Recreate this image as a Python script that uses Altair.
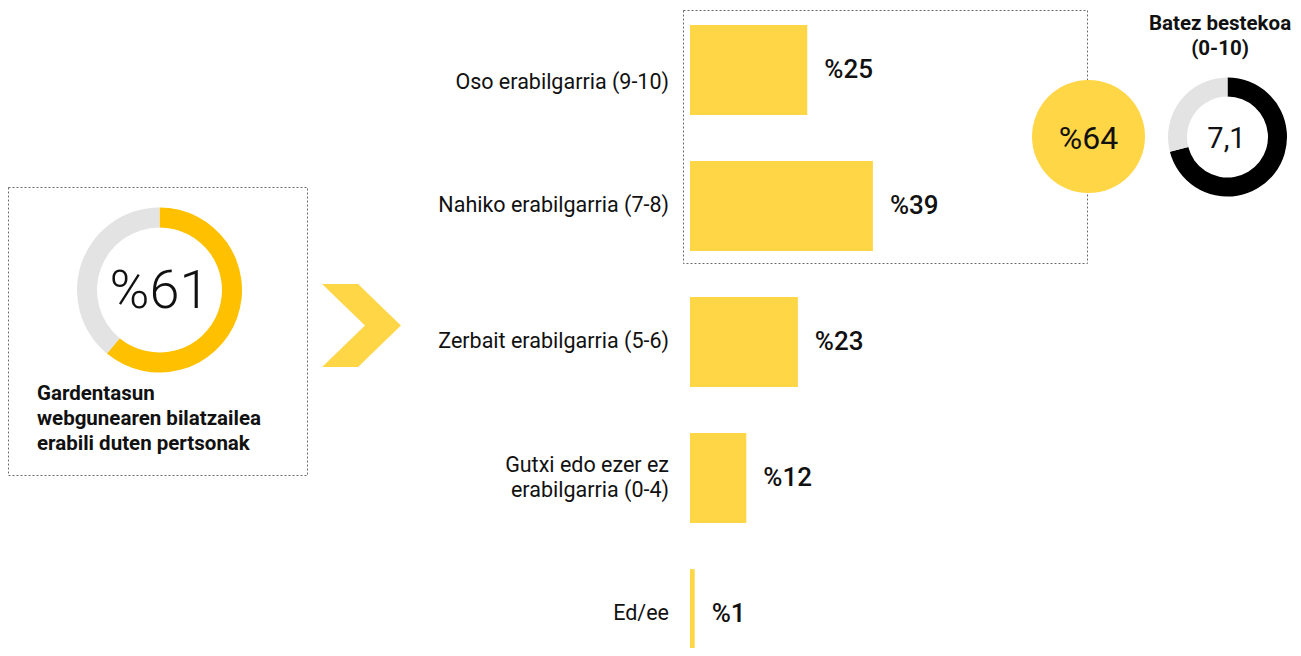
import altair as alt
import pandas as pd

# ---------------- data ----------------
categories = [
    "Oso erabilgarria (9-10)",
    "Nahiko erabilgarria (7-8)",
    "Zerbait erabilgarria (5-6)",
    "Gutxi edo ezer ez\nerabilgarria (0-4)",
    "Ed/ee",
]
values = [25, 39, 23, 12, 1]
users_pct = 61
avg_score = 7.1
avg_max = 10
side_title = "Batez bestekoa\n(0-10)"
left_caption = "Gardentasun\nwebgunearen bilatzailea\nerabili duten pertsonak"

# ---------------- style ----------------
W, H = 1285, 640
YELLOW = "#FFD645"
ORANGE = "#FFC000"
GREY = "#E3E3E3"
INK = "#111111"
DASH = "#6b6b6b"
FONT = "Roboto"

bar_df = pd.DataFrame({
    "category": categories,
    "value": values,
    "label": ["%" + str(v) for v in values],
    "row": list(range(len(categories))),
})
top2 = values[0] + values[1]

xs = alt.Scale(domain=[0, 100], range=[682, 1151])
ys = alt.Scale(domain=categories, range=[-6, 674], paddingInner=0.34, paddingOuter=0.17)

one = pd.DataFrame({"k": [0]})


def box(x1, x2, y1, y2):
    return alt.Chart(one).mark_rect(
        fill="white", fillOpacity=0, stroke=DASH, strokeWidth=1, strokeDash=[2, 2]
    ).encode(x=alt.value(x1), x2=alt.value(x2), y=alt.value(y1), y2=alt.value(y2))


# left box
box_left = box(0.5, 299.5, 179.5, 467.5)

d61 = pd.DataFrame({
    "v": [users_pct, 100 - users_pct],
    "c": [ORANGE, GREY],
    "o": [0, 1],
})
arc61 = alt.Chart(d61).mark_arc(outerRadius=82.5, innerRadius=62.5).encode(
    theta=alt.Theta("v:Q", stack=True),
    color=alt.Color("c:N", scale=None),
    order=alt.Order("o:Q"),
    x=alt.value(151.5),
    y=alt.value(282),
)
txt61 = alt.Chart(pd.DataFrame({"t": ["%" + str(users_pct)]})).mark_text(
    font=FONT, fontSize=54, fontWeight=300, color=INK, align="center", baseline="alphabetic"
).encode(text="t:N", x=alt.value(151.5), y=alt.value(300))

caption = alt.Chart(pd.DataFrame({"t": [left_caption]})).mark_text(
    font=FONT, fontSize=20.5, fontWeight="bold", color=INK, align="left",
    baseline="alphabetic", lineBreak="\n", lineHeight=25
).encode(text="t:N", x=alt.value(29), y=alt.value(392))

chevron_path = "M-0.95,-1 L-0.084,-1 L0.95,0 L-0.084,1 L-0.95,1 L0.084,0 Z"
chevron = alt.Chart(one).mark_point(
    shape=chevron_path, filled=True, size=6889, color=YELLOW, opacity=1, strokeWidth=0
).encode(x=alt.value(353.5), y=alt.value(317.5))

# right dashed box
box_right = box(675.5, 1079.5, 2.5, 255.5)

bars = alt.Chart(bar_df).mark_bar(color=YELLOW).encode(
    x=alt.X("value:Q", scale=xs, axis=None),
    y=alt.Y("category:N", scale=ys, axis=None, sort=categories),
)
vlabels = alt.Chart(bar_df).mark_text(
    align="left", baseline="middle", dx=17, font=FONT, fontSize=26, fontWeight=500, color=INK
).encode(
    x=alt.X("value:Q", scale=xs, axis=None),
    y=alt.Y("category:N", scale=ys, axis=None, sort=categories),
    text="label:N",
)


def cat_labels(flt, dy):
    return alt.Chart(bar_df).transform_filter(flt).mark_text(
        align="right", baseline="middle", dy=dy, font=FONT, fontSize=21.5, color=INK,
        lineBreak="\n", lineHeight=25
    ).encode(
        x=alt.value(661),
        y=alt.Y("category:N", scale=ys, axis=None, sort=categories),
        text="category:N",
    )


clabels_first = cat_labels("datum.row == 0", 13)
clabels_single = cat_labels("datum.row > 0 && indexof(datum.category, '\\n') < 0", 0)
clabels_multi = cat_labels("datum.row > 0 && indexof(datum.category, '\\n') >= 0", -12.5)

circle64 = alt.Chart(one).mark_circle(size=12769, color=YELLOW, opacity=1).encode(
    x=alt.value(1080.5), y=alt.value(128.5)
)
txt64 = alt.Chart(pd.DataFrame({"t": ["%" + str(top2)]})).mark_text(
    font=FONT, fontSize=32, fontWeight=400, color=INK, align="center", baseline="alphabetic"
).encode(text="t:N", x=alt.value(1080.5), y=alt.value(140.5))

davg = pd.DataFrame({
    "v": [avg_score, round(avg_max - avg_score, 2)],
    "c": ["#000000", GREY],
    "o": [0, 1],
})
arcavg = alt.Chart(davg).mark_arc(outerRadius=59.5, innerRadius=40.5).encode(
    theta=alt.Theta("v:Q", stack=True),
    color=alt.Color("c:N", scale=None),
    order=alt.Order("o:Q"),
    x=alt.value(1219.5),
    y=alt.value(129),
)
txtavg = alt.Chart(pd.DataFrame({"t": [str(avg_score).replace(".", ",")]})).mark_text(
    font=FONT, fontSize=29, fontWeight=400, color=INK, align="center", baseline="alphabetic"
).encode(text="t:N", x=alt.value(1218.5), y=alt.value(140))

title = alt.Chart(pd.DataFrame({"t": [side_title]})).mark_text(
    font=FONT, fontSize=20.5, fontWeight="bold", color=INK, align="center",
    baseline="alphabetic", lineBreak="\n", lineHeight=25
).encode(text="t:N", x=alt.value(1212), y=alt.value(21.5))

chart = alt.layer(
    box_left, arc61, txt61, caption, chevron,
    box_right, bars, vlabels, clabels_first, clabels_single, clabels_multi,
    circle64, txt64, arcavg, txtavg, title,
).resolve_scale(theta="independent").properties(
    width=W, height=H, autosize=alt.AutoSizeParams(type="none"), padding=0
).configure_view(strokeWidth=0)

chart.save("out.html", embed_options={"renderer": "svg", "actions": False})
